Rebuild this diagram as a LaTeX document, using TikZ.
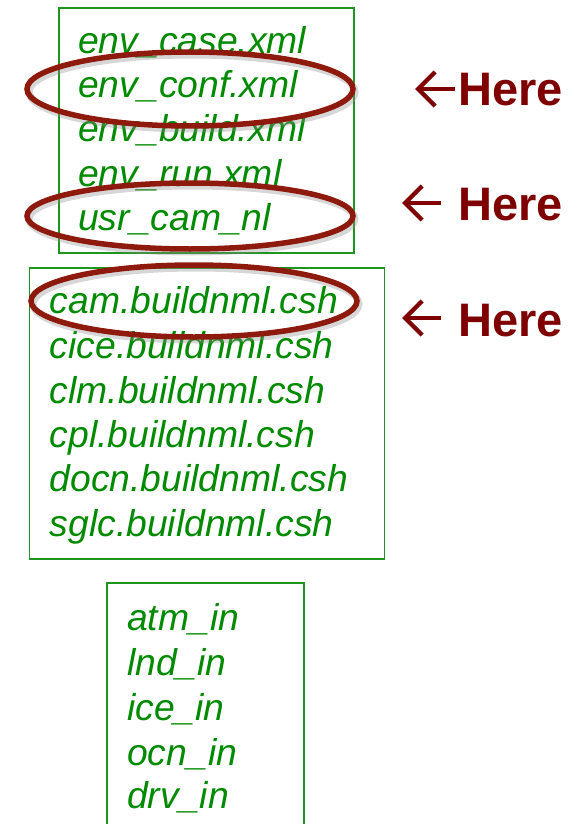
\documentclass[tikz,border=0pt]{standalone}
\usepackage{fontspec}
\setmainfont{Liberation Sans}
\usetikzlibrary{shapes.geometric,arrows.meta}
\definecolor{fgreen}{HTML}{008A00}
\definecolor{bgreen}{HTML}{1E951E}
\definecolor{hred}{HTML}{7F0000}
\definecolor{ered}{HTML}{8E1A0E}
\tikzset{
  gtxt/.style={anchor=base west, inner sep=0pt, text=fgreen, font=\fontsize{37.3}{37}\selectfont\itshape},
  gbox/.style={draw=bgreen, line width=1.6pt},
  htxt/.style={anchor=base west, inner sep=0pt, text=hred, font=\fontsize{47}{47}\selectfont\bfseries},
  harrow/.style={draw=hred, line width=4.4pt, -{Straight Barb[length=17pt,width=34pt,line width=4.4pt]}},
  hl/.style={draw=ered, line width=5.5pt, ellipse, inner sep=0pt},
  hlshadow/.style={draw=black!45, opacity=0.35, line width=7pt, ellipse, inner sep=0pt}
}
\begin{document}
\begin{tikzpicture}[x=1pt,y=-1pt]
\useasboundingbox (0,0) rectangle (582,824);
% boxes
\node[gbox, minimum width=295pt, minimum height=245pt, anchor=north west, inner sep=0pt] (b1) at (58,7) {};
\node[gbox, minimum width=355pt, minimum height=291pt, anchor=north west, inner sep=0pt] (b2) at (28.5,267) {};
\draw[bgreen, line width=1.6pt] (107,830) -- (107,583) -- (304,583) -- (304,830);
% box 1 text
\node[gtxt] (t1) at (78,54) {env\_case.xml};
\node[gtxt] (t2) at (78,98) {env\_conf.xml};
\node[gtxt] (t3) at (78,142) {env\_build.xml};
\node[gtxt] (t4) at (78,186) {env\_run.xml};
\node[gtxt] (t5) at (78,230) {usr\_cam\_nl};
% box 2 text
\node[gtxt] (s1) at (49.5,313) {cam.buildnml.csh};
\node[gtxt] (s2) at (49.5,358) {cice.buildnml.csh};
\node[gtxt] (s3) at (49.5,403) {clm.buildnml.csh};
\node[gtxt] (s4) at (49.5,447) {cpl.buildnml.csh};
\node[gtxt] (s5) at (49.5,491) {docn.buildnml.csh};
\node[gtxt] (s6) at (49.5,536) {sglc.buildnml.csh};
% box 3 text
\node[gtxt] (u1) at (127,630) {atm\_in};
\node[gtxt] (u2) at (127,675) {lnd\_in};
\node[gtxt] (u3) at (127,720) {ice\_in};
\node[gtxt] (u4) at (127,765) {ocn\_in};
\node[gtxt] (u5) at (127,808) {drv\_in};
% shadows of highlights
\node[hlshadow, minimum width=326pt, minimum height=74pt] at (192,92) {};
\node[hlshadow, minimum width=326pt, minimum height=66pt] at (192,219) {};
\node[hlshadow, minimum width=326pt, minimum height=72pt] at (196,304) {};
% highlights
\node[hl, minimum width=326pt, minimum height=74pt] (e1) at (190,89) {};
\node[hl, minimum width=326pt, minimum height=66pt] (e2) at (190,216) {};
\node[hl, minimum width=326pt, minimum height=72pt] (e3) at (194,301) {};
% labels
\node[htxt] (h1) at (458,106) {Here};
\node[htxt] (h2) at (458,220) {Here};
\node[htxt] (h3) at (458,336) {Here};
\coordinate (a1s) at (455,89);  \coordinate (a1e) at (415,89);
\coordinate (a2s) at (441,203); \coordinate (a2e) at (402,203);
\coordinate (a3s) at (441,318); \coordinate (a3e) at (402,318);
\draw[harrow] (a1s) -- (a1e);
\draw[harrow] (a2s) -- (a2e);
\draw[harrow] (a3s) -- (a3e);
\end{tikzpicture}
\end{document}
